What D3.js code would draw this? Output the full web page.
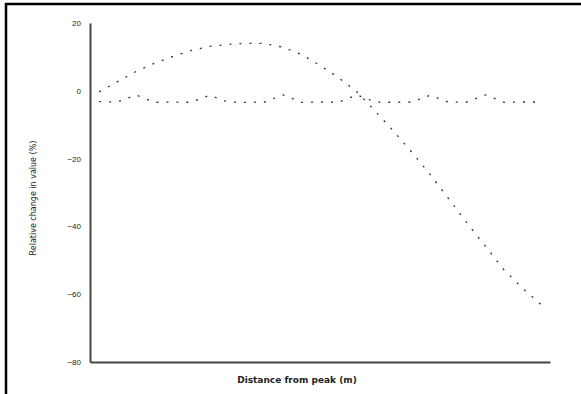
<!DOCTYPE html>
<html>
<head>
<meta charset="utf-8">
<script src="https://cdn.jsdelivr.net/npm/d3@7"></script>
<style>
  body { margin: 0; background: #fff; }
  svg { display: block; font-family: "DejaVu Sans", sans-serif; }
</style>
</head>
<body>
<svg width="581" height="394"></svg>
<script>
// positions along the x axis (no ticks shown on that axis)
const steps = [2, 6, 10, 14, 18, 22, 26, 30, 34, 38, 42, 46, 50, 54, 58, 62, 66, 70, 74, 78, 82, 86, 90, 94, 98];

// series values
const curveValues = [-0.3, 2.7, 5.7, 8.1, 10.1, 11.9, 13.1, 13.7, 14.0, 14.0, 12.8, 10.7, 7.5, 3.9, -0.3,
  -6.0, -11.9, -18.2, -24.8, -31.9, -39.1, -45.9, -52.8, -58.2, -63.0];
const flatValues = [-3.2, -3.3, -1.2, -3.4, -3.3, -3.4, -1.3, -3.3, -3.4, -3.3, -1.2, -3.4, -3.3,
  -3.4, -1.2, -3.3, -3.4, -3.3, -1.3, -3.4, -3.3, -1.2, -3.4, -3.3, -3.3];

const yTicks = [20, 0, -20, -40, -60, -80];

const xLabel = 'Distance from peak (m)';
const yLabel = 'Relative change in value (%)';

const svg = d3.select('svg');
const width = 581;
const height = 394;
const margin = { top: 23, right: 31, bottom: 32, left: 90 };

// outer frame, only the top and left edges fall inside the window
svg.append('rect')
  .attr('x', 6).attr('y', 4)
  .attr('width', 700).attr('height', 500)
  .attr('fill', 'none')
  .attr('stroke', '#000')
  .attr('stroke-width', 2.5);

const x = d3.scaleLinear()
  .domain([0, 100])
  .range([margin.left, width - margin.right]);

const y = d3.scaleLinear()
  .domain([-80, 20])
  .range([height - margin.bottom, margin.top]);

const yAxis = svg.append('g')
  .attr('transform', `translate(${margin.left},0)`)
  .call(d3.axisLeft(y).tickValues(yTicks).tickSize(0).tickPadding(9));
yAxis.select('.domain').attr('stroke', '#444').attr('stroke-width', 2);
yAxis.selectAll('text').attr('font-size', 8).attr('fill', '#222');

const xAxis = svg.append('g')
  .attr('transform', `translate(0,${height - margin.bottom})`)
  .call(d3.axisBottom(x).tickValues([]).tickSize(0));
xAxis.select('.domain').attr('stroke', '#444').attr('stroke-width', 2);

const line = d3.line()
  .x(d => x(d[0]))
  .y(d => y(d[1]));

[curveValues, flatValues].forEach(vals => {
  svg.append('path')
    .datum(steps.map((s, i) => [s, vals[i]]))
    .attr('d', line)
    .attr('fill', 'none')
    .attr('stroke', '#333')
    .attr('stroke-width', 1.3)
    .attr('stroke-dasharray', '2,8');
});

svg.append('text')
  .attr('x', 297)
  .attr('y', 383)
  .attr('text-anchor', 'middle')
  .attr('font-size', 9)
  .attr('font-weight', 'bold')
  .attr('fill', '#222')
  .text(xLabel);

svg.append('text')
  .attr('transform', 'translate(36,198) rotate(-90)')
  .attr('text-anchor', 'middle')
  .attr('font-size', 8)
  .attr('fill', '#222')
  .text(yLabel);
</script>
</body>
</html>
